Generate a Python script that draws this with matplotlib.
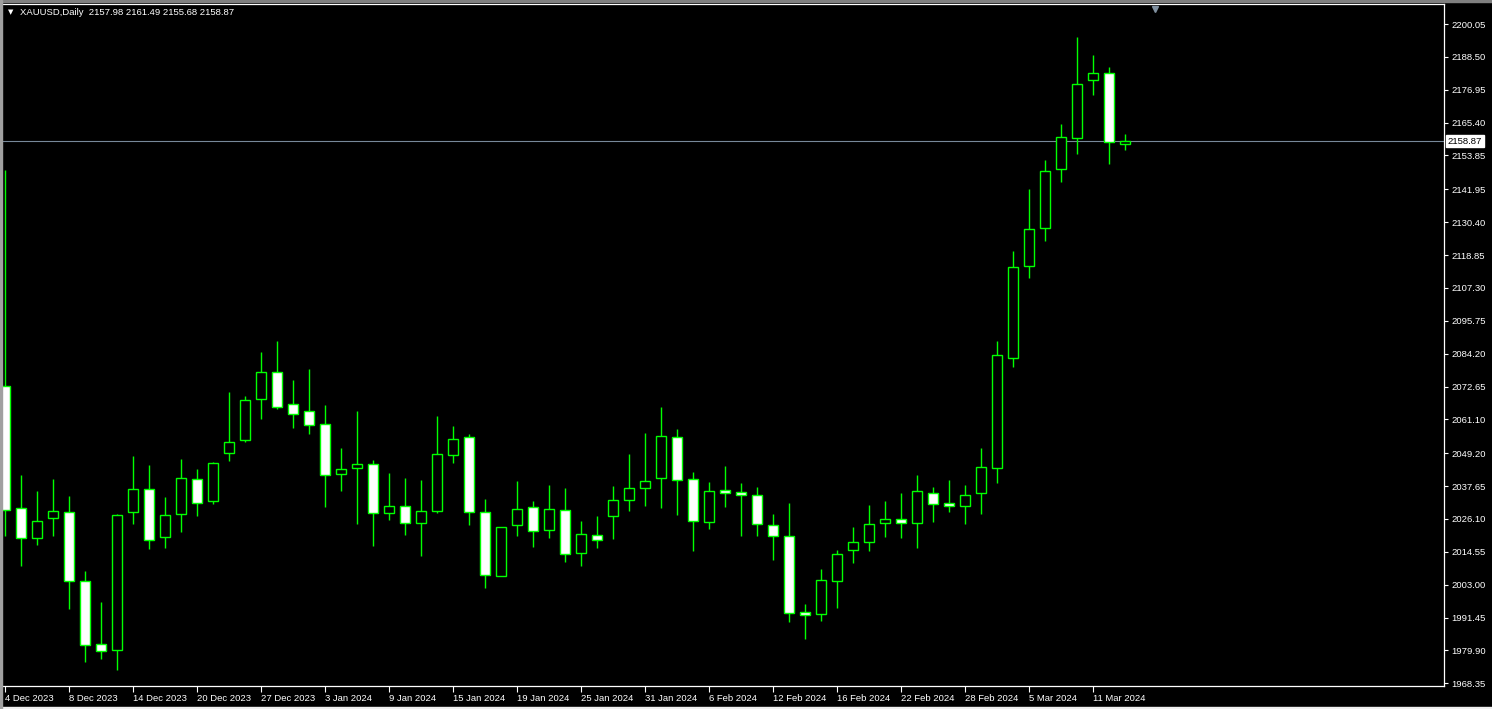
import matplotlib.pyplot as plt
import numpy as np

# daily XAUUSD candles, 4 Dec 2023 .. 13 Mar 2024
opens = [2072.83, 2029.85, 2019.31, 2026.33, 2028.45, 2004.19, 1982.05, 1979.95, 2028.45, 2036.53,
         2019.87, 2027.74, 2040.04, 2032.31, 2049.18, 2053.75, 2068.15, 2077.64, 2066.40, 2063.94,
         2059.37, 2041.80, 2043.90, 2045.31, 2028.09, 2030.55, 2024.58, 2028.80, 2048.47, 2054.80,
         2028.45, 2005.95, 2023.87, 2030.20, 2022.12, 2029.15, 2014.03, 2020.36, 2027.04, 2032.66,
         2036.88, 2040.39, 2054.80, 2040.04, 2024.93, 2036.18, 2035.47, 2034.42, 2023.87, 2020.01,
         1993.30, 1992.60, 2004.19, 2015.09, 2017.90, 2024.58, 2025.98, 2024.58, 2035.12, 2031.61,
         2030.55, 2035.12, 2043.90, 2082.56, 2114.89, 2128.25, 2148.98, 2159.88, 2180.26, 2182.72,
         2157.98]
highs = [2148.74, 2041.45, 2035.93, 2040.15, 2034.17, 2007.81, 1996.92, 2027.85, 2048.23, 2045.07,
         2033.82, 2047.17, 2043.66, 2046.12, 2070.72, 2069.31, 2084.78, 2088.65, 2074.94, 2078.80,
         2066.15, 2051.04, 2064.04, 2046.82, 2042.25, 2040.50, 2039.79, 2062.29, 2058.77, 2055.96,
         2033.12, 2023.30, 2039.44, 2032.41, 2038.04, 2036.98, 2025.39, 2027.14, 2037.69, 2048.93,
         2056.31, 2065.45, 2057.72, 2042.61, 2039.09, 2044.71, 2038.74, 2037.33, 2027.85, 2031.71,
         1996.22, 2008.52, 2015.19, 2023.28, 2031.01, 2032.41, 2035.23, 2041.55, 2037.33, 2039.79,
         2038.04, 2051.04, 2088.65, 2120.27, 2142.06, 2152.25, 2164.90, 2195.48, 2189.15, 2184.93,
         2161.49]
lows = [2020.22, 2009.68, 2017.06, 2020.22, 1994.56, 1975.94, 1976.99, 1973.13, 2024.44, 2015.65,
        2016.00, 2021.62, 2027.25, 2031.46, 2046.58, 2053.25, 2061.34, 2064.64, 2058.17, 2056.07,
        2030.41, 2036.03, 2024.44, 2016.70, 2025.84, 2020.57, 2013.19, 2028.30, 2045.87, 2024.09,
        2001.95, 2005.90, 2020.22, 2016.36, 2019.52, 2011.08, 2009.68, 2016.00, 2019.16, 2029.00,
        2030.76, 2030.06, 2027.60, 2014.95, 2022.68, 2030.41, 2020.22, 2020.22, 2011.78, 1990.00,
        1984.02, 1990.35, 1994.92, 2010.73, 2014.95, 2019.87, 2019.52, 2016.00, 2025.14, 2028.65,
        2024.44, 2027.95, 2038.85, 2079.40, 2110.68, 2123.68, 2144.41, 2154.25, 2174.99, 2150.74,
        2155.68]
closes = [2029.15, 2019.31, 2025.28, 2028.80, 2004.19, 1981.70, 1979.60, 2027.39, 2036.53, 2018.61,
          2027.39, 2040.39, 2031.61, 2045.66, 2053.04, 2067.80, 2077.64, 2065.34, 2062.88, 2059.02,
          2041.45, 2043.55, 2045.31, 2028.09, 2030.55, 2024.58, 2028.80, 2048.83, 2054.10, 2028.45,
          2006.30, 2023.17, 2029.50, 2021.77, 2029.50, 2013.68, 2020.71, 2018.61, 2032.66, 2036.88,
          2039.34, 2055.15, 2039.69, 2025.28, 2035.82, 2035.12, 2034.42, 2024.23, 2020.01, 1992.95,
          1992.25, 2004.55, 2013.68, 2017.90, 2024.23, 2025.98, 2024.58, 2035.82, 2031.25, 2030.55,
          2034.42, 2044.26, 2083.62, 2114.54, 2127.90, 2148.28, 2160.23, 2178.85, 2182.72, 2158.47,
          2158.87]

date_labels = ['4 Dec 2023', '8 Dec 2023', '14 Dec 2023', '20 Dec 2023', '27 Dec 2023',
               '3 Jan 2024', '9 Jan 2024', '15 Jan 2024', '19 Jan 2024', '25 Jan 2024',
               '31 Jan 2024', '6 Feb 2024', '12 Feb 2024', '16 Feb 2024', '22 Feb 2024',
               '28 Feb 2024', '5 Mar 2024', '11 Mar 2024']
price_ticks = [1968.35, 1979.90, 1991.45, 2003.00, 2014.55, 2026.10, 2037.65, 2049.20, 2061.10,
               2072.65, 2084.20, 2095.75, 2107.30, 2118.85, 2130.40, 2141.95, 2153.85, 2165.40,
               2176.95, 2188.50, 2200.05]
last_price = 2158.87
header = 'XAUUSD,Daily  2157.98 2161.49 2155.68 2158.87'

green = '#00ff00'
font = 'Liberation Sans'

o = np.array(opens)
h = np.array(highs)
l = np.array(lows)
c = np.array(closes)
x = np.arange(len(o))

fig = plt.figure(figsize=(14.92, 7.09), dpi=100, facecolor='black')
W, H = 1492, 709
ax = fig.add_axes([3 / W, (H - 686) / H, 1441.3 / W, 682 / H])
ax.set_facecolor('black')

# wicks behind, bodies on top
ax.vlines(x, l, h, color=green, lw=1.0, zorder=2)
bull = c >= o
ax.bar(x, np.abs(c - o), bottom=np.minimum(o, c), width=0.62,
       color=np.where(bull, 'black', 'white'), edgecolor=green, linewidth=1.0, zorder=3)

ax.axhline(last_price, color='#778899', lw=0.8, zorder=1)

ax.set_xlim(-0.144, 89.94)
ax.set_ylim(1967.4, 2207.08)

ax.set_xticks(np.arange(len(date_labels)) * 4)
ax.set_xticklabels(date_labels, ha='left', fontfamily=font, fontsize=6.8, color='white')
ax.yaxis.tick_right()
ax.set_yticks(price_ticks)
ax.set_yticklabels(['%.2f' % v for v in price_ticks], fontfamily=font, fontsize=6.8, color='white')
ax.tick_params(axis='x', colors='white', length=4, width=0.8, pad=2, labelcolor='white')
ax.tick_params(axis='y', colors='white', length=3, width=0.8, pad=2, labelcolor='white')
for lab in ax.get_xticklabels():
    lab.set_x(lab.get_position()[0])

for side in ['top', 'right', 'bottom']:
    ax.spines[side].set_color('white')
    ax.spines[side].set_linewidth(0.9)
ax.spines['left'].set_visible(False)

# current price box on the price scale
ax.text(1.0025, last_price, '%.2f' % last_price, transform=ax.get_yaxis_transform(),
        ha='left', va='center', fontfamily=font, fontsize=6.8, color='black',
        bbox=dict(boxstyle='square,pad=0.15', facecolor='white', edgecolor='white'), zorder=5)

# header
fig.text(8 / W, 1 - 12 / H, '\u25bc', fontsize=5, color='white', ha='left', va='center', family='DejaVu Sans')
fig.text(20 / W, 1 - 12.5 / H, header, fontfamily=font, fontsize=6.8, color='white', ha='left', va='center')

# chart shift marker
ax.plot(0.7993, 0.992, marker='v', ms=5, color='#8090a0', transform=ax.transAxes, clip_on=False)

# window edges
fig.patches.append(plt.Rectangle((0, 1 - 2 / H), 1, 2 / H, transform=fig.transFigure, color='#808080'))
fig.patches.append(plt.Rectangle((0, 0), 1, 2.5 / H, transform=fig.transFigure, color='#f0f0f0'))
fig.patches.append(plt.Rectangle((0, 0), 2 / W, 1, transform=fig.transFigure, color='#a0a0a0'))

fig.savefig('out.png', dpi=100, facecolor='black')
